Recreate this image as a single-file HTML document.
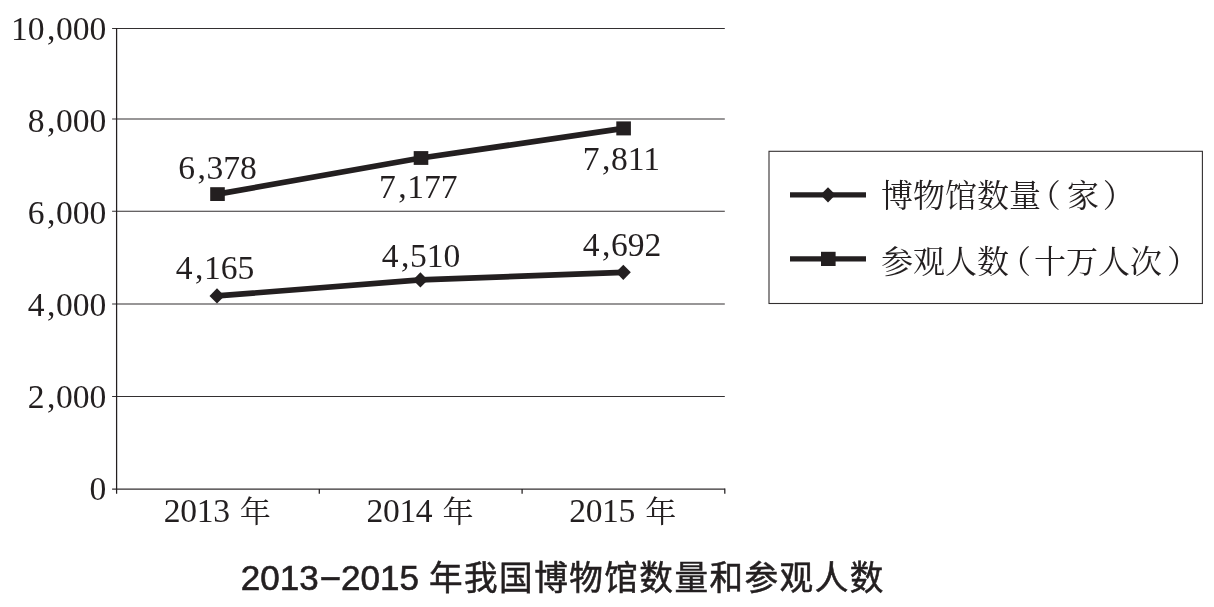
<!DOCTYPE html>
<html lang="zh-CN">
<head>
<meta charset="utf-8">
<title>2013–2015 年我国博物馆数量和参观人数</title>
<style>
html,body{margin:0;padding:0;background:#fff;}
body{width:1214px;height:607px;overflow:hidden;position:relative;}
svg{position:absolute;left:0;top:0;display:block;}
.num{font-family:"Liberation Serif","Noto Serif CJK SC",serif;font-size:33.6px;fill:#231f20;}
.nian{font-family:"Liberation Serif","Noto Serif CJK SC",serif;font-size:31.2px;fill:#231f20;}
.leg{font-family:"Liberation Serif","Noto Serif CJK SC",serif;font-size:32px;fill:#231f20;}
.ttl{font-family:"Liberation Sans","Noto Sans CJK SC",sans-serif;font-size:35px;fill:#231f20;}
.tl{stroke:#231f20;stroke-width:0.6px;}
.tc{font-weight:400;font-size:33.6px;letter-spacing:1.48px;stroke:#231f20;stroke-width:0.55px;}
</style>
</head>
<body>
<svg width="1214" height="607" viewBox="0 0 1214 607">
<rect x="0" y="0" width="1214" height="607" fill="#ffffff"/>
<!-- gridlines -->
<g stroke="#332f30" stroke-width="1.05" fill="none">
<line x1="112.1" y1="28.5" x2="724.8" y2="28.5"/>
<line x1="112.1" y1="119.0" x2="724.8" y2="119.0"/>
<line x1="112.1" y1="211.3" x2="724.8" y2="211.3"/>
<line x1="112.1" y1="303.9" x2="724.8" y2="303.9"/>
<line x1="112.1" y1="396.4" x2="724.8" y2="396.4"/>
<line x1="112.1" y1="489.1" x2="724.8" y2="489.1"/>
</g>
<!-- axis + ticks -->
<g stroke="#231f20" stroke-width="1.25" fill="none">
<line x1="116.6" y1="27.9" x2="116.6" y2="493.7"/>
<line x1="319.3" y1="489.1" x2="319.3" y2="493.7"/>
<line x1="522.1" y1="489.1" x2="522.1" y2="493.7"/>
<line x1="724.8" y1="488.4" x2="724.8" y2="493.7"/>
</g>
<!-- series lines -->
<g stroke="#231f20" stroke-width="5.7" fill="none" stroke-linejoin="round">
<polyline points="217.5,194.1 421,158 623.6,128.4"/>
<polyline points="217,295.9 420.4,279.9 623.3,272.3"/>
</g>
<!-- markers -->
<g fill="#231f20">
<rect x="210.2" y="187.2" width="14.6" height="13.8"/>
<rect x="413.7" y="151.1" width="14.6" height="13.8"/>
<rect x="616.3" y="121.4" width="14.6" height="14.0"/>
<polygon points="217,288.3 224.5,295.9 217,303.5 209.5,295.9"/>
<polygon points="420.4,272.3 427.9,279.9 420.4,287.5 412.9,279.9"/>
<polygon points="623.3,264.7 630.8,272.3 623.3,279.9 615.8,272.3"/>
</g>
<!-- y axis labels -->
<g class="num">
<text text-anchor="end" transform="translate(106.3,40.3) scale(1,1.03)">10<tspan dx="2.4">,</tspan><tspan dx="0.6">000</tspan></text>
<text text-anchor="end" transform="translate(106.3,131.8) scale(1,1.03)">8<tspan dx="2.4">,</tspan><tspan dx="0.6">000</tspan></text>
<text text-anchor="end" transform="translate(106.3,223.9) scale(1,1.03)">6<tspan dx="2.4">,</tspan><tspan dx="0.6">000</tspan></text>
<text text-anchor="end" transform="translate(106.3,315.5) scale(1,1.03)">4<tspan dx="2.4">,</tspan><tspan dx="0.6">000</tspan></text>
<text text-anchor="end" transform="translate(106.3,407.7) scale(1,1.03)">2<tspan dx="2.4">,</tspan><tspan dx="0.6">000</tspan></text>
<text text-anchor="end" transform="translate(106.3,500.2) scale(1,1.03)">0</text>
</g>
<!-- data labels -->
<g class="num">
<text transform="translate(178.3,178.5) scale(1,1.015)">6<tspan dx="2.4">,</tspan><tspan dx="0.6">378</tspan></text>
<text transform="translate(175.8,279.1) scale(1,1.015)">4<tspan dx="2.4">,</tspan><tspan dx="0.6">165</tspan></text>
<text transform="translate(379.0,197.5) scale(1,1.015)">7<tspan dx="2.4">,</tspan><tspan dx="0.6">177</tspan></text>
<text transform="translate(381.8,266.5) scale(1,1.015)">4<tspan dx="2.4">,</tspan><tspan dx="0.6">510</tspan></text>
<text transform="translate(582.8,169.9) scale(1,1.015)">7<tspan dx="2.4">,</tspan><tspan dx="0.6">811</tspan></text>
<text transform="translate(582.8,256.2) scale(1,1.015)">4<tspan dx="2.4">,</tspan><tspan dx="0.6">692</tspan></text>
</g>
<!-- x axis labels -->
<g class="num">
<text style="letter-spacing:-0.35px" transform="translate(163.8,521.7) scale(1,1.03)">2013</text>
<text class="nian" transform="translate(239.8,521.5) scale(1,0.96)">年</text>
<text style="letter-spacing:-0.35px" transform="translate(366.5,521.7) scale(1,1.03)">2014</text>
<text class="nian" transform="translate(442.5,521.5) scale(1,0.96)">年</text>
<text style="letter-spacing:-0.35px" transform="translate(569.2,521.7) scale(1,1.03)">2015</text>
<text class="nian" transform="translate(645.2,521.5) scale(1,0.96)">年</text>
</g>
<!-- legend -->
<rect x="769" y="151.3" width="433.4" height="152.2" fill="#fff" stroke="#332f30" stroke-width="1.1"/>
<g stroke="#231f20" stroke-width="5.3" fill="none">
<line x1="790" y1="194.8" x2="866" y2="194.8"/>
<line x1="790" y1="258.9" x2="866" y2="258.9"/>
</g>
<polygon fill="#231f20" points="828,187.2 835.5,194.8 828,202.4 820.5,194.8"/>
<rect fill="#231f20" x="821" y="251.8" width="14.6" height="14.2"/>
<g class="leg">
<text y="206.5"><tspan x="881">博物馆数量</tspan><tspan x="1028.8">（</tspan><tspan x="1067">家</tspan><tspan x="1102.8">）</tspan></text>
<text y="272.5"><tspan x="881">参观人数</tspan><tspan x="999">（</tspan><tspan x="1034">十万人次</tspan><tspan x="1167">）</tspan></text>
</g>
<!-- title -->
<text class="ttl tl" x="240.8" y="589.8">2013</text>
<text class="ttl tl" transform="translate(321.4,589.8) scale(0.92,1.12)" y="-1.1">–</text>
<text class="ttl tl" x="341.0" y="589.8">2015</text>
<text class="ttl tc" x="429.0" y="590.0">年我国博物馆数量和参观人数</text>
</svg>
</body>
</html>
